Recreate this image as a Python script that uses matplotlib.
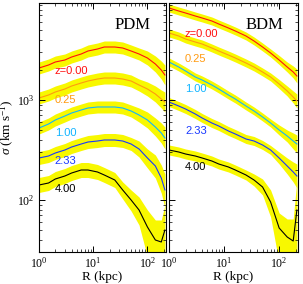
import numpy as np
import matplotlib
matplotlib.use("Agg")
import matplotlib.pyplot as plt
from matplotlib.ticker import LogLocator, NullFormatter

# ---- data ----
redshift_labels = ["z=0.00", "0.25", "1.00", "2.33", "4.00"]
line_colors = ["#ff1010", "#ff9a10", "#10b4ff", "#1838ff", "#000000"]
band_color = "#f8f800"

R_kpc = [1.0, 1.5, 2.0, 3.0, 4.0, 6.0, 8.0, 12.0, 16.0, 25.0, 35.0, 50.0, 70.0, 100.0, 140.0, 180.0, 210.0]

# PDM panel: log10 sigma (km/s)
pdm_z000 = [3.32, 3.35, 3.38, 3.40, 3.43, 3.46, 3.49, 3.51, 3.53, 3.53, 3.52, 3.49, 3.46, 3.42, 3.36, 3.30, 3.25]
pdm_z025 = [3.02, 3.05, 3.08, 3.11, 3.14, 3.17, 3.19, 3.21, 3.22, 3.22, 3.21, 3.19, 3.15, 3.11, 3.06, 3.01, 2.98]
pdm_z100 = [2.72, 2.76, 2.80, 2.84, 2.87, 2.90, 2.92, 2.93, 2.93, 2.93, 2.92, 2.89, 2.85, 2.80, 2.73, 2.67, 2.62]
pdm_z233 = [2.42, 2.44, 2.47, 2.50, 2.53, 2.56, 2.58, 2.59, 2.60, 2.60, 2.59, 2.56, 2.51, 2.42, 2.34, 2.22, 2.10]
pdm_z400 = [2.15, 2.17, 2.21, 2.24, 2.27, 2.30, 2.30, 2.28, 2.25, 2.20, 2.10, 2.00, 1.90, 1.73, 1.60, 1.58, 1.70]

# BDM panel: log10 sigma (km/s)
bdm_z000 = [3.92, 3.89, 3.87, 3.84, 3.82, 3.79, 3.76, 3.72, 3.69, 3.64, 3.59, 3.53, 3.47, 3.40, 3.33, 3.28, 3.24]
bdm_z025 = [3.67, 3.64, 3.61, 3.58, 3.56, 3.52, 3.49, 3.45, 3.42, 3.37, 3.33, 3.28, 3.23, 3.16, 3.09, 3.03, 2.99]
bdm_z100 = [3.38, 3.33, 3.29, 3.23, 3.20, 3.15, 3.11, 3.05, 3.01, 2.94, 2.89, 2.83, 2.77, 2.70, 2.64, 2.59, 2.56]
bdm_z233 = [2.98, 2.94, 2.91, 2.86, 2.82, 2.77, 2.74, 2.69, 2.66, 2.61, 2.59, 2.55, 2.50, 2.42, 2.34, 2.28, 2.24]
bdm_z400 = [2.50, 2.48, 2.46, 2.44, 2.42, 2.39, 2.36, 2.33, 2.30, 2.25, 2.20, 2.13, 1.98, 1.72, 1.63, 1.59, 1.90]

# band half widths (dex): lower, upper
pdm_err_lo = [[0.06]*12 + [0.06, 0.07, 0.08, 0.09, 0.10],
              [0.06]*12 + [0.06, 0.07, 0.08, 0.09, 0.10],
              [0.06]*12 + [0.07, 0.08, 0.09, 0.10, 0.11],
              [0.065]*12 + [0.08, 0.10, 0.12, 0.15, 0.18],
              [0.075]*10 + [0.09, 0.11, 0.15, 0.30, 0.40, 0.40, 0.40]]
pdm_err_hi = [[0.06]*12 + [0.06, 0.07, 0.08, 0.09, 0.10],
              [0.06]*12 + [0.06, 0.07, 0.08, 0.09, 0.10],
              [0.06]*12 + [0.07, 0.08, 0.09, 0.10, 0.11],
              [0.065]*12 + [0.08, 0.09, 0.11, 0.13, 0.16],
              [0.075]*10 + [0.08, 0.10, 0.13, 0.17, 0.20, 0.22, 0.25]]
bdm_err_lo = [[0.04]*13 + [0.045, 0.05, 0.06, 0.07],
              [0.04]*13 + [0.045, 0.05, 0.06, 0.07],
              [0.04]*13 + [0.05, 0.06, 0.08, 0.09],
              [0.045]*13 + [0.06, 0.08, 0.10, 0.12],
              [0.05]*10 + [0.06, 0.08, 0.15, 0.35, 0.40, 0.40, 0.40]]
bdm_err_hi = [[0.04]*13 + [0.045, 0.05, 0.06, 0.07],
              [0.04]*13 + [0.045, 0.05, 0.06, 0.07],
              [0.04]*13 + [0.05, 0.06, 0.08, 0.09],
              [0.045]*13 + [0.06, 0.08, 0.10, 0.12],
              [0.05]*10 + [0.06, 0.08, 0.12, 0.15, 0.18, 0.22, 0.30]]

pdm_label_pos = [(1.95, 3.29), (1.95, 3.00), (1.95, 2.67), (1.95, 2.39), (1.95, 2.11)]
bdm_label_pos = [(1.95, 3.66), (1.95, 3.41), (1.95, 3.11), (1.95, 2.69), (1.95, 2.33)]

panels = [("PDM", [pdm_z000, pdm_z025, pdm_z100, pdm_z233, pdm_z400], pdm_err_lo, pdm_err_hi, pdm_label_pos),
          ("BDM", [bdm_z000, bdm_z025, bdm_z100, bdm_z233, bdm_z400], bdm_err_lo, bdm_err_hi, bdm_label_pos)]

W, H = 303, 284
fig = plt.figure(figsize=(W/100, H/100), dpi=100)
ax_rects = [[39/W, 32/H, 127/W, 249/H], [169/W, 32/H, 129/W, 249/H]]

serif = ["Liberation Serif", "DejaVu Serif"]
plt.rcParams["mathtext.fontset"] = "custom"
plt.rcParams["mathtext.rm"] = "Liberation Serif"
plt.rcParams["mathtext.it"] = "Liberation Serif:italic"
R = np.array(R_kpc)
for i, (name, curves, elo, ehi, lpos) in enumerate(panels):
    ax = fig.add_axes(ax_rects[i])
    for c, lo, hi, col, lab, (lx, ly) in zip(curves, elo, ehi, line_colors, redshift_labels, lpos):
        c = np.array(c)
        ax.fill_between(R, 10**(c - np.array(lo)), 10**(c + np.array(hi)), color=band_color, lw=0, zorder=1)
        ax.plot(R, 10**c, color=col, lw=0.8, zorder=2)
        ax.text(lx, 10**ly, lab, color=col, fontsize=8,
                family="Liberation Sans", ha="left", va="center")
    ax.set_xscale("log")
    ax.set_yscale("log")
    ax.set_xlim(1, 220)
    ax.set_ylim(10**1.48, 10**3.97)
    ax.text(0.74, 0.91, name, transform=ax.transAxes, fontsize=12, family=serif,
            ha="center", va="center")
    ax.tick_params(which="both", direction="in", top=True, right=True, labelsize=8.5)
    ax.tick_params(which="major", length=4, width=0.7, pad=3)
    ax.tick_params(which="minor", length=2, width=0.5)
    ax.xaxis.set_major_locator(LogLocator(base=10, numticks=10))
    ax.xaxis.set_minor_locator(LogLocator(base=10, subs=np.arange(2, 10), numticks=10))
    ax.yaxis.set_minor_formatter(NullFormatter())
    ax.xaxis.set_minor_formatter(NullFormatter())
    for lbl in ax.get_xticklabels() + ax.get_yticklabels():
        lbl.set_family(serif)
    for s in ax.spines.values():
        s.set_linewidth(0.8)
    ax.set_xlabel("R (kpc)", fontsize=9.5, family=serif, labelpad=0)
    if i == 0:
        ax.set_ylabel(r"$\sigma$ (km s$^{-1}$)", fontsize=9.5, family=serif, labelpad=1)
    else:
        ax.set_yticklabels([])

fig.savefig("out.png", dpi=100)
